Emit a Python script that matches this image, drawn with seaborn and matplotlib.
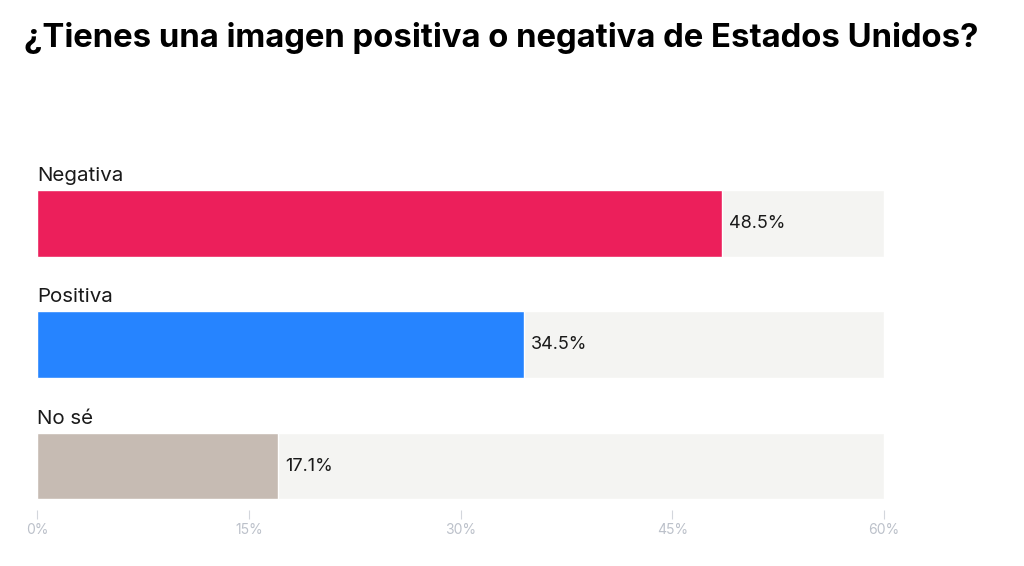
import matplotlib
matplotlib.use("Agg")
import matplotlib.pyplot as plt
import seaborn as sns
import pandas as pd

categories = ["Negativa", "Positiva", "No sé"]
values = [48.5, 34.5, 17.1]
colors = ["#EC1F5B", "#2684FF", "#C6BBB3"]
tick_vals = [0, 15, 30, 45, 60]
tick_labels = ["0%", "15%", "30%", "45%", "60%"]
title = "¿Tienes una imagen positiva o negativa de Estados Unidos?"
max_val = 60

sns.set_theme(style="white")
plt.rcParams['font.family'] = ['Inter', 'DejaVu Sans']

df = pd.DataFrame({"cat": categories, "val": values})
bg = pd.DataFrame({"cat": categories, "val": [max_val] * len(categories)})

fig = plt.figure(figsize=(10.24, 5.66), dpi=100)
W, H = 1024, 566
ax = fig.add_axes([37 / W, (H - 510) / H, (884 - 37) / W, (510 - 180) / H])

sns.barplot(data=bg, x="val", y="cat", orient="h", color="#F4F4F2",
            width=0.55, ax=ax, saturation=1)
sns.barplot(data=df, x="val", y="cat", orient="h", hue="cat",
            palette=dict(zip(categories, colors)), width=0.55, ax=ax,
            saturation=1, legend=False)

ax.set_xlim(0, max_val)
ax.set_ylim(2.362, -0.358)
ax.set_xticks(tick_vals)
ax.set_xticklabels(tick_labels)
ax.set_yticks([])
ax.set_xlabel("")
ax.set_ylabel("")
for s in ax.spines.values():
    s.set_visible(False)
ax.tick_params(axis="x", direction="out", length=6.5, width=0.8,
               color="#D3D6DC", labelcolor="#BCC1CA", labelsize=10, pad=3,
               bottom=True)

for i, (c, v) in enumerate(zip(categories, values)):
    ax.text(0, i - 0.275 - 0.074, c, ha="left", va="baseline",
            fontsize=14.8, color="#1a1a1a")
    ax.text(v + 0.5, i, f"{v}%", ha="left", va="center",
            fontsize=13, color="#1a1a1a")

fig.text(24 / W, 1 - 47 / H, title, ha="left", va="baseline",
         fontsize=23.7, fontweight="bold", color="#000000")

fig.savefig("out.png", dpi=100)
